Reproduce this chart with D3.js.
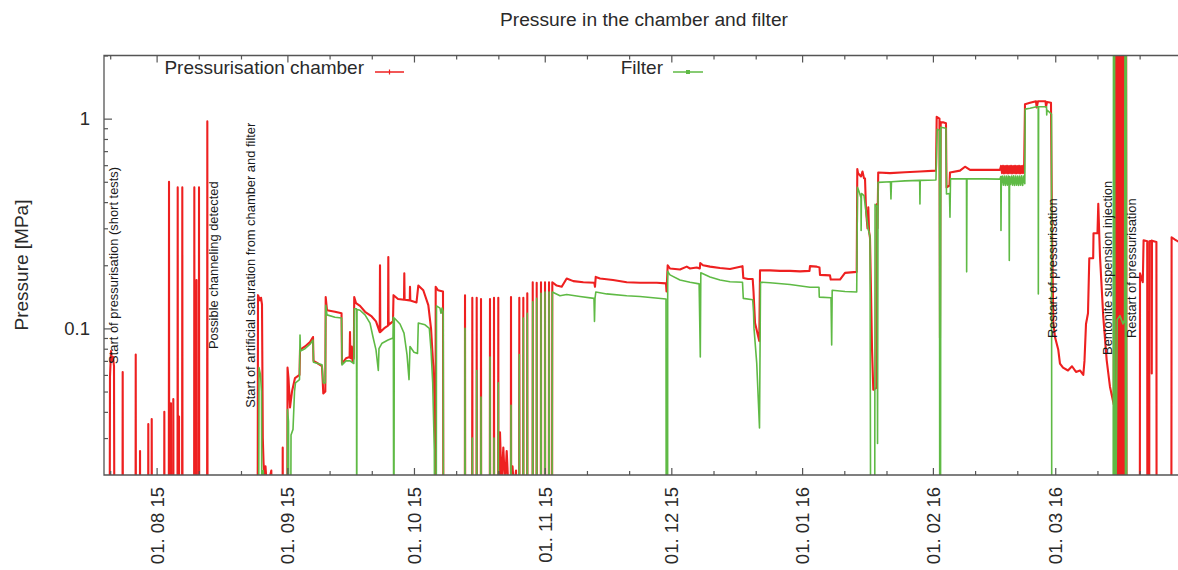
<!DOCTYPE html>
<html><head><meta charset="utf-8">
<script src="https://cdn.jsdelivr.net/npm/d3@7"></script>
<style>
html,body{margin:0;padding:0;background:#fff;}
svg{display:block;font-family:"Liberation Sans",Arial,sans-serif;}
</style></head><body>
<svg id="chart" width="1178" height="570"></svg>
<script>
// ---- data: [days since 2015-08-01 (UTC), pressure in MPa] ----
const LOW = 0.005, HIGH = 3;   // values below / above the plotted range
const chamber = [
[-13.4,LOW],
[-11.16,LOW],[-11.05,0.059],[-10.81,0.078],[-10.57,0.07],[-10.33,0.073],[-10.10,0.066],[-9.98,LOW],
[-8.10,LOW],[-8.04,0.062],[-7.98,LOW],
[-5.01,LOW],[-4.95,0.075],[-4.89,LOW],
[-3.99,LOW],[-3.93,0.026],[-3.87,LOW],
[-2.03,LOW],[-1.97,0.035],[-1.91,LOW],
[-1.22,LOW],[-1.16,0.037],[-1.10,LOW],
[1.77,LOW],[1.83,0.04],[1.89,LOW],
[2.88,LOW],[2.94,0.5],[3.0,LOW],
[3.35,LOW],[3.41,0.044],[3.47,LOW],
[3.90,LOW],[3.96,0.046],[4.02,LOW],
[4.94,LOW],[5.0,0.47],[5.06,LOW],
[5.25,LOW],[5.31,0.038],[5.37,LOW],
[6.03,LOW],[6.09,0.47],[6.15,LOW],
[8.88,LOW],[8.94,0.47],[9.0,LOW],
[9.40,LOW],[9.46,0.17],[9.52,LOW],
[9.99,LOW],[10.05,0.47],[10.11,LOW],
[11.96,LOW],[12.02,0.97],[12.08,LOW],
[23.92,LOW],[24.03,0.144],[24.27,0.14],[24.51,0.136],[24.75,0.14],[24.98,0.13],[25.17,0.03],[25.34,0.023],[25.57,0.019],[25.81,0.022],[26.17,0.017],[27.19,0.021],[27.35,LOW],
[29.82,LOW],[29.89,0.027],[29.96,LOW],
[30.96,LOW],[31.03,0.065],[31.26,0.058],[31.62,0.042],[32.09,0.05],[32.80,0.058],[33.87,0.06],[33.99,0.079],[35.17,0.082],[36.36,0.086],[37.07,0.091],[37.19,0.07],[38.26,0.068],[39.20,0.066],[39.51,0.049],[39.99,0.05],[40.08,0.141],[40.39,0.122],[42.28,0.12],[43.83,0.118],[43.94,0.068],[44.89,0.072],[45.75,0.073],[45.84,0.096],[45.93,0.072],[46.24,0.082],[46.43,0.07],[46.74,0.072],[46.84,0.141],[47.26,0.132],[48.21,0.128],[49.40,0.12],[50.98,0.114],[52.00,0.108],[52.88,0.096],[52.95,0.2],[53.02,0.096],[53.90,0.1],[54.85,0.103],[54.92,0.219],[54.99,0.104],[56.03,0.108],[56.15,0.144],[57.22,0.138],[58.64,0.137],[58.71,0.183],[58.78,0.137],[60.01,0.136],[60.06,0.158],[60.13,0.136],[61.60,0.133],[62.03,0.16],[63.21,0.152],[64.40,0.129],[65.04,0.1],[65.58,0.066],[65.99,0.038],[66.11,LOW],[66.15,0.158],[66.70,0.152],[67.88,0.15],[68.00,LOW],
[73.04,LOW],[73.10,0.144],[73.16,LOW],
[74.77,LOW],[74.83,0.14],[74.89,LOW],
[75.81,LOW],[75.87,0.14],[75.93,LOW],
[76.83,LOW],[76.89,0.138],[76.95,LOW],
[78.96,LOW],[79.02,0.138],[79.08,LOW],
[79.91,LOW],[79.97,0.14],[80.03,LOW],
[80.93,LOW],[80.99,0.14],[81.05,LOW],
[81.39,0.032],[81.75,0.018],[82.18,0.027],[82.58,0.018],[82.98,0.026],[83.41,0.017],
[83.94,LOW],[84.0,0.141],[84.06,LOW],
[84.36,0.022],[84.71,0.017],[85.19,0.021],[85.42,LOW],
[85.91,LOW],[85.97,0.14],[86.03,LOW],
[86.86,LOW],[86.92,0.14],[86.98,LOW],
[87.80,LOW],[87.86,0.147],[87.92,LOW],
[89.09,LOW],[89.15,0.166],[89.21,LOW],
[90.03,LOW],[90.09,0.165],[90.15,LOW],
[91.05,LOW],[91.11,0.166],[91.17,LOW],
[92.00,LOW],[92.06,0.166],[92.12,LOW],
[92.95,LOW],[93.01,0.166],[93.07,LOW],
[93.73,LOW],[93.79,0.166],[94.83,0.16],[96.02,0.158],[97.20,0.173],[98.77,0.168],[101.14,0.166],[103.74,0.165],[103.91,0.158],[104.08,0.176],[105.10,0.173],[108.18,0.17],[111.43,0.166],[114.58,0.165],[118.53,0.165],[120.74,0.164],[120.86,0.15],[121.14,0.2],[121.69,0.193],[124.06,0.191],[125.65,0.197],[126.43,0.193],[128.02,0.195],[128.75,0.193],[128.85,0.205],[129.51,0.2],[131.17,0.197],[133.54,0.194],[135.91,0.192],[138.87,0.198],[139.06,0.174],[140.18,0.172],[141.29,0.172],[141.48,0.15],[141.84,0.106],[142.85,0.087],[143.02,0.189],[145.39,0.189],[147.76,0.188],[150.13,0.188],[152.50,0.187],[154.75,0.188],[154.87,0.198],[156.46,0.197],[157.12,0.195],[157.24,0.18],[159.61,0.179],[159.78,0.171],[161.98,0.171],[163.17,0.184],[165.94,0.186],
[166.08,0.575],[166.25,0.55],[166.96,0.53],[167.31,0.56],[167.67,0.52],[167.91,0.518],[168.15,0.365],[168.50,0.3],[168.69,0.378],[168.86,0.29],[169.09,0.27],[169.33,0.15],[169.57,0.08],[169.87,0.051],[170.61,0.052],[170.68,0.39],[170.87,0.3],[171.04,0.554],[173.83,0.55],[177.39,0.555],[180.94,0.56],[184.73,0.565],[184.90,1.02],[185.56,1.0],[185.68,0.09],[185.85,0.96],[186.40,0.96],[187.10,0.95],[187.23,0.47],[187.93,0.48],[188.05,0.554],[190.42,0.565],[191.61,0.59],[192.80,0.57],[196.35,0.57],[199.91,0.57],
[200.15,0.595],[200.39,0.55],[200.62,0.596],[200.86,0.548],[201.10,0.595],[201.34,0.55],[201.57,0.596],[201.81,0.548],[202.05,0.595],[202.29,0.55],[202.52,0.596],[202.76,0.548],[203.00,0.595],[203.24,0.55],[203.47,0.596],[203.71,0.548],[203.95,0.595],[204.19,0.55],[204.42,0.596],[204.66,0.548],[204.90,0.595],[205.14,0.55],[205.37,0.596],[205.61,0.55],
[205.83,1.17],[207.02,1.19],[208.44,1.21],[208.61,1.13],[208.91,1.21],[210.69,1.21],[210.81,1.14],[211.05,1.2],[211.99,1.19],[212.23,0.3],[212.54,0.106],[212.94,0.091],[213.72,0.079],[214.12,0.068],[214.84,0.065],[216.02,0.063],[216.97,0.066],[217.92,0.062],[218.86,0.063],[219.65,0.06],[219.93,0.07],[220.29,0.105],[220.76,0.118],[221.07,0.216],[221.99,0.216],[222.07,0.284],[223.01,0.284],[223.20,0.393],[223.61,0.219],[224.39,0.113],[225.19,0.0706],[225.97,0.0527],[226.87,0.0434],
[226.99,HIGH],[227.20,LOW],[227.39,HIGH],[227.58,LOW],[227.77,HIGH],[227.96,LOW],[228.05,HIGH],[228.17,LOW],[228.29,HIGH],[228.48,LOW],[228.67,HIGH],[228.79,LOW],[228.91,HIGH],[229.03,LOW],[229.15,HIGH],[229.34,LOW],[229.53,HIGH],[229.72,LOW],[229.81,HIGH],[229.91,LOW],
[233.04,LOW],[233.09,0.183],[233.75,0.166],[233.94,0.263],[234.80,0.26],[234.84,LOW],[235.27,LOW],[235.32,0.26],[235.84,0.262],[235.88,0.061],[235.93,0.262],[236.98,0.258],[237.03,LOW],[240.51,LOW],[240.58,0.272],[241.38,0.265],[242.09,0.26],[244.94,0.26]
];
const filter = [
[-13.4,LOW],[24.15,LOW],[24.27,0.065],[24.63,0.06],[24.86,0.05],[24.98,LOW],[25.20,LOW],[25.27,0.021],[25.50,0.016],[25.74,0.02],[25.93,LOW],[27.16,LOW],[27.26,0.02],[27.35,LOW],
[30.98,LOW],[31.03,0.041],[31.26,0.036],[31.38,LOW],[31.74,LOW],[31.86,0.031],[32.33,0.033],[32.69,0.05],[32.92,0.055],[33.87,0.057],[33.99,0.093],[34.11,0.078],[35.17,0.08],[36.36,0.084],[37.07,0.088],[37.19,0.069],[38.26,0.068],[39.20,0.067],[39.51,0.055],[39.99,0.055],[40.08,0.129],[40.39,0.116],[42.28,0.113],[43.83,0.112],[43.94,0.067],[44.89,0.07],[45.84,0.07],[46.74,0.068],[46.86,0.124],[47.38,0.124],[47.43,LOW],[47.50,0.123],[48.21,0.122],[49.40,0.116],[50.58,0.106],[51.29,0.091],[52.00,0.079],[52.55,0.063],[52.71,0.08],[53.43,0.085],[54.85,0.088],[56.03,0.09],[56.10,0.113],[56.22,LOW],[56.34,0.112],[57.69,0.105],[58.64,0.095],[59.35,0.075],[59.83,0.057],[60.06,0.082],[61.01,0.077],[61.84,0.076],[62.03,0.106],[63.62,0.104],[64.64,0.1],[65.04,0.079],[65.44,0.055],[65.82,0.0265],[65.99,LOW],[66.27,LOW],[66.34,0.128],[67.17,0.125],[67.41,0.118],[67.65,0.125],[67.93,0.12],[68.00,LOW],
[73.04,LOW],[73.10,0.1],[73.16,LOW],
[74.77,LOW],[74.83,0.03],[74.89,LOW],
[75.81,LOW],[75.87,0.063],[75.93,LOW],
[76.83,LOW],[76.89,0.047],[76.95,LOW],
[78.96,LOW],[79.02,0.073],[79.08,LOW],
[79.91,LOW],[79.97,0.03],[80.03,LOW],
[80.93,LOW],[80.99,0.055],[81.05,LOW],
[83.94,LOW],[84.0,0.043],[84.06,LOW],
[85.91,LOW],[85.97,0.075],[86.03,LOW],
[86.86,LOW],[86.92,0.112],[86.98,LOW],
[87.80,LOW],[87.86,0.118],[87.92,LOW],
[89.09,LOW],[89.15,0.134],[89.21,LOW],
[90.03,LOW],[90.09,0.139],[90.15,LOW],
[91.05,LOW],[91.11,0.147],[91.17,LOW],
[92.00,LOW],[92.06,0.149],[92.12,LOW],
[92.95,LOW],[93.01,0.149],[93.07,LOW],
[93.73,LOW],[93.79,0.149],[95.61,0.143],[97.20,0.145],[100.35,0.142],[103.67,0.139],[103.79,0.108],[103.91,0.139],[104.10,0.149],[106.68,0.146],[111.43,0.143],[114.58,0.142],[120.74,0.138],[120.80,LOW],[121.12,LOW],[121.14,0.187],[121.68,0.18],[124.05,0.17],[126.43,0.166],[128.59,0.163],[128.87,0.073],[128.99,0.184],[131.17,0.176],[133.54,0.17],[135.91,0.167],[138.87,0.166],[139.06,0.139],[141.29,0.137],[141.48,0.12],[141.60,0.1],[142.24,0.0685],[142.90,0.0335],[143.14,0.166],[145.39,0.165],[150.13,0.162],[154.87,0.157],[157.00,0.157],[157.07,0.141],[159.85,0.14],[160.01,0.0834],[160.13,0.152],[163.17,0.15],[165.94,0.149],
[166.13,0.47],[166.48,0.45],[166.95,0.42],[166.99,0.293],[167.07,0.44],[167.67,0.43],[168.14,0.36],[168.62,0.3],[169.09,0.275],[169.28,LOW],[170.19,LOW],[170.29,0.39],[170.76,0.38],[170.88,0.0283],[171.00,0.497],[173.94,0.5],[174.06,0.414],[174.18,0.5],[177.38,0.505],[180.86,0.508],[180.93,0.392],[181.00,0.508],[184.72,0.51],[185.02,0.89],[185.56,0.88],[185.63,LOW],[185.80,LOW],[185.87,0.91],[187.10,0.9],[187.22,0.437],[187.93,0.44],[188.05,0.339],[188.17,0.516],[191.96,0.516],[192.00,0.186],[192.08,0.516],[196.35,0.516],[199.90,0.515],
[200.09,0.53],[200.14,0.293],[200.21,0.49],[200.45,0.532],[200.69,0.482],[200.93,0.532],[201.17,0.48],[201.40,0.533],[201.64,0.482],[201.88,0.532],[202.04,0.48],[202.11,0.211],[202.18,0.53],[202.42,0.485],[202.66,0.533],[202.90,0.482],[203.13,0.534],[203.37,0.48],[203.61,0.533],[203.85,0.482],[204.09,0.532],[204.32,0.48],[204.56,0.533],[204.80,0.482],[205.04,0.534],[205.28,0.48],[205.52,0.533],[205.78,0.49],
[205.88,1.11],[207.02,1.12],[208.56,1.14],[208.96,1.14],[208.99,0.146],[209.06,1.14],[210.93,1.14],[210.98,1.04],[211.05,1.1],[212.11,1.05],[212.18,LOW],
[226.73,LOW],[226.80,HIGH],[226.97,LOW],[227.06,HIGH],[227.23,LOW],[227.68,0.11],[228.34,0.115],[229.06,0.105],[229.43,0.11],[229.53,HIGH],[229.67,LOW],[229.81,HIGH],[229.95,LOW],[244.94,LOW]
];
const seriesNames = ["Pressurisation chamber", "Filter"];
const seriesColors = ["#ee2020", "#5fba45"];

// axes
const monthTicks = ["2015-08-01","2015-09-01","2015-10-01","2015-11-01","2015-12-01","2016-01-01","2016-02-01","2016-03-01"];
const monthLabels = ["01. 08 15","01. 09 15","01. 10 15","01. 11 15","01. 12 15","01. 01 16","01. 02 16","01. 03 16"];
const minorXTicks = ["2015-07-21","2015-08-11","2015-08-21","2015-09-11","2015-09-21","2015-10-11","2015-10-21","2015-11-11","2015-11-21","2015-12-11","2015-12-21","2016-01-11","2016-01-21","2016-02-11","2016-02-21","2016-03-11","2016-03-21"];
const yTicks = [0.1, 1];
const yTickLabels = ["0.1", "1"];
const yMinorTicks = [0.03,0.04,0.05,0.06,0.07,0.08,0.09,0.2,0.3,0.4,0.5,0.6,0.7,0.8,0.9,2];

// annotations (anchor = start of the vertical text, in data coordinates)
const annotationTexts = ["Start of pressurisation (short tests)","Possible channeling detected","Start of artificial saturation from chamber and filter","Restart of pressurisation","Bentonite suspension injection","Restart of pressurisation"];
const annotationDays = [-9.27, 14.62, 23.25, 213.53, 226.57, 232.14];
const annotationValues = [0.0677, 0.0797, 0.0418, 0.0899, 0.0747, 0.0899];

// ---- drawing ----
const t0 = Date.UTC(2015, 7, 1);
const dayToDate = d => new Date(t0 + d * 864e5);
const parse = d3.utcParse("%Y-%m-%d");

const L = 104, R = 1190, T = 55.5, B = 475;
const svg = d3.select("#chart");
const x = d3.scaleUtc().domain([dayToDate(-12.47), dayToDate(244.94)]).range([L, R]);
const y = d3.scaleLog().domain([0.02, 2]).range([B, T]);

const axisColor = "#555";
const textColor = "#2a2a2a";

svg.append("defs").append("clipPath").attr("id","plotclip")
  .append("rect").attr("x", L).attr("y", T).attr("width", R - L).attr("height", B - T);

// title
svg.append("text").attr("x", 644).attr("y", 26).attr("text-anchor","middle")
  .attr("font-size", 19.2).attr("fill", textColor).text("Pressure in the chamber and filter");

// series
const line = d3.line().x(d => x(dayToDate(d[0]))).y(d => y(d[1]));
const plot = svg.append("g").attr("clip-path","url(#plotclip)");
[chamber, filter].forEach((s, i) => {
  plot.append("path").datum(s).attr("d", line).attr("fill","none")
    .attr("stroke", seriesColors[i]).attr("stroke-width", i === 0 ? 2.1 : 1.6)
    .attr("stroke-linejoin","round");
});

// frame
svg.append("path").attr("d", `M${R},${T}H${L}V${B}H${R}`).attr("fill","none")
  .attr("stroke", axisColor).attr("stroke-width", 1.3);

function styleAxis(g) {
  g.select(".domain").remove();
  g.selectAll(".tick line").attr("stroke", axisColor).attr("stroke-width", 1.2);
}

// bottom axis
const xMajor = svg.append("g").attr("transform", `translate(0,${B})`)
  .call(d3.axisBottom(x).tickValues(monthTicks.map(parse)).tickSize(-7).tickSizeOuter(0)
    .tickFormat((d, i) => monthLabels[i]));
styleAxis(xMajor);
xMajor.selectAll(".tick text").attr("transform","rotate(-90)").attr("x", -12).attr("y", 6.5)
  .attr("dy", 0).attr("text-anchor","end").attr("font-size", 18.5)
  .attr("font-family", '"Liberation Sans",Arial,sans-serif').attr("fill", textColor);
const xMinor = svg.append("g").attr("transform", `translate(0,${B})`)
  .call(d3.axisBottom(x).tickValues(minorXTicks.map(parse)).tickSize(-4).tickSizeOuter(0).tickFormat(""));
styleAxis(xMinor);

// top axis (mirror ticks)
const xTop = svg.append("g").attr("transform", `translate(0,${T})`)
  .call(d3.axisTop(x).tickValues(monthTicks.map(parse)).tickSize(-7).tickSizeOuter(0).tickFormat(""));
styleAxis(xTop);
const xTopMinor = svg.append("g").attr("transform", `translate(0,${T})`)
  .call(d3.axisTop(x).tickValues(minorXTicks.map(parse)).tickSize(-4).tickSizeOuter(0).tickFormat(""));
styleAxis(xTopMinor);

// left axis
const yMajor = svg.append("g").attr("transform", `translate(${L},0)`)
  .call(d3.axisLeft(y).tickValues(yTicks).tickSize(-8).tickSizeOuter(0).tickPadding(14)
    .tickFormat((d, i) => yTickLabels[i]));
styleAxis(yMajor);
yMajor.selectAll(".tick text").attr("font-size", 18.5)
  .attr("font-family", '"Liberation Sans",Arial,sans-serif').attr("fill", textColor);
const yMinor = svg.append("g").attr("transform", `translate(${L},0)`)
  .call(d3.axisLeft(y).tickValues(yMinorTicks).tickSize(-4).tickSizeOuter(0).tickFormat(""));
styleAxis(yMinor);

// y label
svg.append("text").attr("transform", "translate(28,265) rotate(-90)").attr("text-anchor","middle")
  .attr("font-size", 19).attr("fill", textColor).text("Pressure [MPa]");

// annotations
annotationTexts.forEach((t, i) => {
  svg.append("text")
    .attr("transform", `translate(${x(dayToDate(annotationDays[i]))},${y(annotationValues[i])}) rotate(-90)`)
    .attr("text-anchor","start").attr("font-size", 12.9).attr("fill", "#1a1a1a").text(t);
});

// legend
const legend = [
  {tx: 364, x1: 375, x2: 404, marker: "plus"},
  {tx: 663, x1: 673, x2: 703, marker: "square"}
];
legend.forEach((l, i) => {
  svg.append("text").attr("x", l.tx).attr("y", 73.5).attr("text-anchor","end")
    .attr("font-size", 19).attr("fill", textColor).text(seriesNames[i]);
  svg.append("line").attr("x1", l.x1).attr("x2", l.x2).attr("y1", 72).attr("y2", 72)
    .attr("stroke", seriesColors[i]).attr("stroke-width", 1.5);
  const cx = (l.x1 + l.x2) / 2;
  if (l.marker === "plus") {
    svg.append("line").attr("x1", cx).attr("x2", cx).attr("y1", 69.5).attr("y2", 74.5)
      .attr("stroke", seriesColors[i]).attr("stroke-width", 1.2);
  } else {
    svg.append("rect").attr("x", cx - 2).attr("y", 70).attr("width", 4).attr("height", 4)
      .attr("fill", seriesColors[i]);
  }
});
</script>
</body></html>
